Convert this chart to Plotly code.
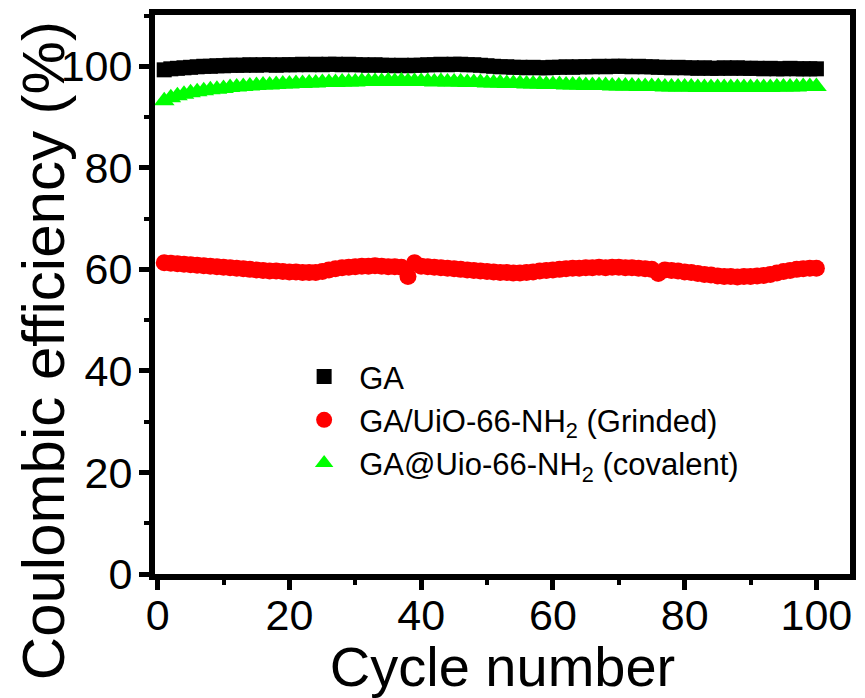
import plotly.graph_objects as go

cycles = list(range(1, 101))

ga = [99.3, 99.5, 99.6, 99.7, 99.8, 99.9, 100.0, 100.0, 100.1, 100.1,
      100.2, 100.2, 100.2, 100.3, 100.2, 100.3, 100.3, 100.2, 100.3, 100.3,
      100.3, 100.4, 100.3, 100.4, 100.3, 100.4, 100.4, 100.3, 100.4, 100.3,
      100.3, 100.2, 100.3, 100.2, 100.2, 100.1, 100.2, 100.1, 100.2, 100.2,
      100.3, 100.3, 100.4, 100.3, 100.4, 100.4, 100.3, 100.3, 100.2, 100.1,
      100.0, 99.9, 99.9, 99.8, 99.8, 99.7, 99.8, 99.7, 99.7, 99.8,
      99.8, 99.9, 99.8, 99.9, 99.9, 99.9, 100.0, 99.9, 100.0, 100.0,
      100.0, 99.9, 100.0, 99.9, 99.9, 99.8, 99.8, 99.7, 99.8, 99.7,
      99.7, 99.6, 99.7, 99.6, 99.6, 99.7, 99.6, 99.7, 99.6, 99.6,
      99.6, 99.5, 99.6, 99.5, 99.5, 99.6, 99.5, 99.5, 99.5, 99.5]

ga_uio_grinded = [61.3, 61.2, 61.1, 61.0, 60.9, 60.8, 60.7, 60.6, 60.5, 60.4,
                  60.3, 60.2, 60.1, 60.0, 59.9, 59.8, 59.7, 59.7, 59.6, 59.5,
                  59.5, 59.4, 59.4, 59.4, 59.6, 59.9, 60.1, 60.3, 60.4, 60.5,
                  60.6, 60.6, 60.7, 60.6, 60.5, 60.5, 60.4, 58.6, 61.3, 60.6,
                  60.5, 60.4, 60.3, 60.2, 60.1, 60.0, 59.9, 59.8, 59.7, 59.6,
                  59.5, 59.4, 59.4, 59.3, 59.3, 59.4, 59.5, 59.7, 59.8, 59.9,
                  60.0, 60.1, 60.2, 60.2, 60.3, 60.3, 60.4, 60.3, 60.4, 60.4,
                  60.3, 60.3, 60.2, 60.1, 60.0, 59.2, 59.9, 59.8, 59.7, 59.5,
                  59.4, 59.2, 59.0, 58.9, 58.7, 58.6, 58.6, 58.5, 58.6, 58.6,
                  58.7, 58.8, 59.0, 59.3, 59.6, 59.8, 60.0, 60.1, 60.2, 60.2]

ga_uio_covalent = [93.2, 93.8, 94.2, 94.5, 94.8, 95.0, 95.2, 95.4, 95.5, 95.6,
                   95.8, 95.9, 96.0, 96.1, 96.2, 96.3, 96.3, 96.4, 96.5, 96.5,
                   96.6, 96.6, 96.7, 96.7, 96.8, 96.8, 96.8, 96.9, 96.9, 96.9,
                   97.0, 97.0, 97.0, 97.0, 97.1, 97.0, 97.1, 97.0, 97.0, 97.0,
                   97.0, 96.9, 97.0, 96.9, 96.9, 96.9, 96.8, 96.8, 96.8, 96.7,
                   96.7, 96.7, 96.6, 96.6, 96.6, 96.5, 96.5, 96.5, 96.4, 96.4,
                   96.4, 96.3, 96.3, 96.3, 96.2, 96.2, 96.2, 96.2, 96.1, 96.1,
                   96.1, 96.1, 96.0, 96.0, 96.0, 96.0, 95.9, 95.9, 95.9, 95.9,
                   95.9, 95.8, 95.8, 95.8, 95.8, 95.8, 95.8, 95.8, 95.8, 95.8,
                   95.8, 95.8, 95.8, 95.9, 95.9, 95.9, 95.9, 96.0, 96.0, 96.0]

names = ["GA", "GA/UiO-66-NH<sub>2</sub> (Grinded)", "GA@Uio-66-NH<sub>2</sub> (covalent)"]
colors = ["#000000", "#FF0000", "#00FF00"]
symbols = ["square", "circle", "triangle-up"]
sizes = [15, 17, 18]
series = [ga, ga_uio_grinded, ga_uio_covalent]

FONT = "Liberation Sans, Arial, sans-serif"

fig = go.Figure()
for i, (nm, ys) in enumerate(zip(names, series)):
    fig.add_trace(go.Scatter(
        x=cycles, y=ys, mode="markers", name=nm, legendgroup=f"g{i}",
        marker=dict(symbol=symbols[i], size=sizes[i], color=colors[i], line=dict(width=0)),
    ))

axis_common = dict(
    showline=True, linewidth=6, linecolor="black", mirror=True,
    ticks="outside", ticklen=10, tickwidth=5, tickcolor="black",
    showgrid=False, zeroline=False,
    tickfont=dict(family=FONT, size=43, color="black"),
)

fig.update_xaxes(range=[-0.4, 105.1], tick0=0, dtick=20, ticklabelstandoff=-12,
                 minor=dict(dtick=10, ticks="outside", ticklen=5, tickwidth=4, tickcolor="black"),
                 title=dict(text="Cycle number", font=dict(family=FONT, size=56, color="black"), standoff=0),
                 **axis_common)
fig.update_yaxes(range=[0, 110.1], tick0=0, dtick=20, ticklabelstandoff=-2,
                 minor=dict(dtick=10, ticks="outside", ticklen=5, tickwidth=4, tickcolor="black"),
                 **axis_common)

fig.add_annotation(text="Coulombic efficiency (%)", textangle=-90,
                   xref="paper", yref="paper", x=-0.160, y=0.40,
                   xanchor="center", yanchor="middle", showarrow=False,
                   font=dict(family=FONT, size=60, color="black"))

fig.update_layout(
    width=865, height=698,
    margin=dict(l=155, r=9, t=14, b=124),
    plot_bgcolor="white", paper_bgcolor="white",
    legend=dict(x=0.193, y=0.401, xanchor="left", yanchor="top",
                font=dict(family=FONT, size=31, color="black"),
                bgcolor="rgba(0,0,0,0)", tracegroupgap=0, itemwidth=60),
)

fig.write_html("out.html")
